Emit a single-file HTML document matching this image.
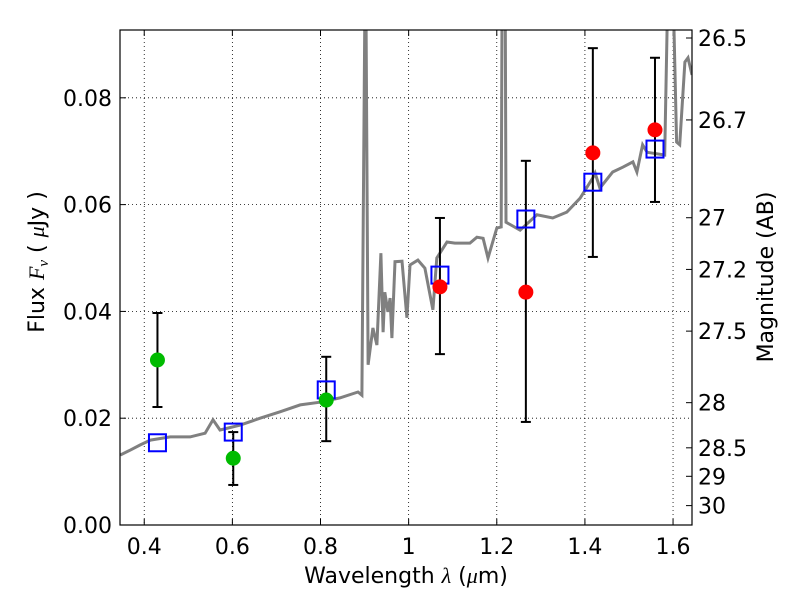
<!DOCTYPE html>
<html><head><meta charset="utf-8"><style>
body{margin:0;background:#fff}
svg text{font-family:"DejaVu Sans","Liberation Sans",sans-serif;fill:#000}
</style></head><body>
<svg id="chart" width="800" height="600" xmlns="http://www.w3.org/2000/svg"></svg>
<script>
const specLam=[0.3456,0.368,0.391,0.414,0.459,0.504,0.538,0.556,0.572,0.618,0.663,0.708,0.754,0.799,0.844,0.885,0.894,0.901,0.903,0.908,0.919,0.928,0.937,0.942,0.946,0.953,0.958,0.962,0.969,0.985,0.996,1.003,1.021,1.037,1.055,1.064,1.087,1.105,1.139,1.155,1.169,1.180,1.200,1.210,1.212,1.219,1.221,1.253,1.291,1.327,1.359,1.389,1.418,1.423,1.434,1.463,1.486,1.509,1.518,1.531,1.541,1.581,1.588,1.600,1.608,1.615,1.627,1.634,1.643];
const specFlux=[0.0131,0.0140,0.0150,0.0159,0.0165,0.0165,0.0172,0.0197,0.0178,0.0187,0.0200,0.0212,0.0225,0.0230,0.0238,0.0249,0.0243,0.10,0.10,0.0300,0.0369,0.0337,0.0509,0.0361,0.0436,0.0399,0.0425,0.0350,0.0493,0.0494,0.0388,0.0487,0.0496,0.0481,0.0403,0.0500,0.0530,0.0528,0.0528,0.0539,0.0537,0.0500,0.0556,0.0558,0.10,0.10,0.0567,0.0552,0.0581,0.0575,0.0586,0.0612,0.0650,0.0659,0.0631,0.0661,0.0670,0.0680,0.0661,0.0712,0.0698,0.0693,0.10,0.10,0.0717,0.0712,0.0867,0.0875,0.0843];
const obsLam=[0.430,0.602,0.813,1.071,1.266,1.418,1.559];
const obsFlux=[0.0309,0.0125,0.0234,0.0446,0.0436,0.0697,0.0740];
const obsHi=[0.0397,0.0174,0.0315,0.0575,0.0682,0.0893,0.0875];
const obsLo=[0.0221,0.0075,0.0157,0.0320,0.0193,0.0502,0.0605];
const obsColor=["#00bb00","#00bb00","#00bb00","red","red","red","red"];
const modelFlux=[0.0154,0.0174,0.0253,0.0468,0.0573,0.0642,0.0704];
const xTicks=[0.4,0.6,0.8,1.0,1.2,1.4,1.6];
const xTickLabels=["0.4","0.6","0.8","1","1.2","1.4","1.6"];
const yTicks=[0,0.02,0.04,0.06,0.08];
const yTickLabels=["0.00","0.02","0.04","0.06","0.08"];
const magTicks=[26.5,26.7,27,27.2,27.5,28,28.5,29,30];
const magLabels=["26.5","26.7","27","27.2","27.5","28","28.5","29","30"];

const L=120,R=692,T=30,B=525,xmin=0.345,xmax=1.643,ymin=0,ymax=0.0927;
const X=v=>L+(v-xmin)/(xmax-xmin)*(R-L);
const Y=v=>B-(v-ymin)/(ymax-ymin)*(B-T);
const svg=document.getElementById('chart');
const NS="http://www.w3.org/2000/svg";
function mk(tag,attrs,parent){const e=document.createElementNS(NS,tag);for(const k in attrs)e.setAttribute(k,attrs[k]);(parent||svg).appendChild(e);return e;}

const defs=mk('defs',{});const cp=mk('clipPath',{id:'clip'},defs);mk('rect',{x:L,y:T,width:R-L,height:B-T},cp);

const grid=mk('g',{});


xTicks.forEach((t,i)=>{
  const x=X(t);
  mk('line',{x1:x,x2:x,y1:T,y2:B,stroke:'#000','stroke-width':0.8,'stroke-dasharray':'1,3'},grid);
  mk('line',{x1:x,x2:x,y1:B,y2:B-6,stroke:'#000'},grid);
  mk('line',{x1:x,x2:x,y1:T,y2:T+6,stroke:'#000'},grid);
  const tx=mk('text',{x:x,y:B+29,'font-size':22,'text-anchor':'middle'});
  
  
  tx.textContent=xTickLabels[i];
});
yTicks.forEach((t,i)=>{
  const y=Y(t);
  mk('line',{x1:L,x2:R,y1:y,y2:y,stroke:'#000','stroke-width':0.8,'stroke-dasharray':'1,3'},grid);
  mk('line',{x1:L,x2:L+6,y1:y,y2:y,stroke:'#000'},grid);
  const tx=mk('text',{x:L-8,y:y+8,'font-size':22,'text-anchor':'end'});
  
  
  tx.textContent=yTickLabels[i];
});
magTicks.forEach((m,i)=>{
  const y=Y(Math.pow(10,(23.9-m)/2.5));
  mk('line',{x1:R,x2:R-6,y1:y,y2:y,stroke:'#000'},grid);
  const tx=mk('text',{x:R+6,y:y+8,'font-size':22});
  
  
  tx.textContent=magLabels[i];
});

const pts=specLam.map((l,i)=>X(l).toFixed(1)+','+Y(specFlux[i]).toFixed(1)).join(' ');
const sp=mk('polyline',{points:pts,fill:'none',stroke:'#808080','stroke-width':3,'clip-path':'url(#clip)'});



obsLam.forEach((l,i)=>{
  const x=X(l);
  const eb=mk('g',{});
  
  
  mk('line',{x1:x,x2:x,y1:Y(obsHi[i]),y2:Y(obsLo[i]),stroke:'#000','stroke-width':2},eb);
  mk('line',{x1:x-5,x2:x+5,y1:Y(obsHi[i]),y2:Y(obsHi[i]),stroke:'#000','stroke-width':2},eb);
  mk('line',{x1:x-5,x2:x+5,y1:Y(obsLo[i]),y2:Y(obsLo[i]),stroke:'#000','stroke-width':2},eb);
  const sq=mk('rect',{x:x-8.5,y:Y(modelFlux[i])-8.5,width:17,height:17,fill:'none',stroke:'#0000ff','stroke-width':2});
  
  
  const c=mk('circle',{cx:x,cy:Y(obsFlux[i]),r:7.5,fill:obsColor[i]});
  
  
});

const fr=mk('rect',{x:L,y:T,width:R-L,height:B-T,fill:'none',stroke:'#000','stroke-width':1.2});



const xl=mk('text',{x:406,y:583,'font-size':22,'text-anchor':'middle'});


xl.innerHTML='Wavelength  <tspan font-family="Liberation Serif" font-style="italic">λ</tspan> (<tspan font-family="Liberation Serif" font-style="italic">μ</tspan>m)';
const yl=mk('text',{transform:'translate(44,262) rotate(-90)','font-size':22,'text-anchor':'middle'});


yl.innerHTML='Flux  <tspan font-family="Liberation Serif" font-style="italic">F</tspan><tspan font-family="Liberation Serif" font-style="italic" font-size="15" dy="4">ν</tspan><tspan dy="-4">  (  </tspan><tspan font-family="Liberation Serif" font-style="italic">μ</tspan>Jy )';
const rl=mk('text',{transform:'translate(773,277) rotate(-90)','font-size':22,'text-anchor':'middle'});


rl.textContent='Magnitude (AB)';
</script>
</body></html>
